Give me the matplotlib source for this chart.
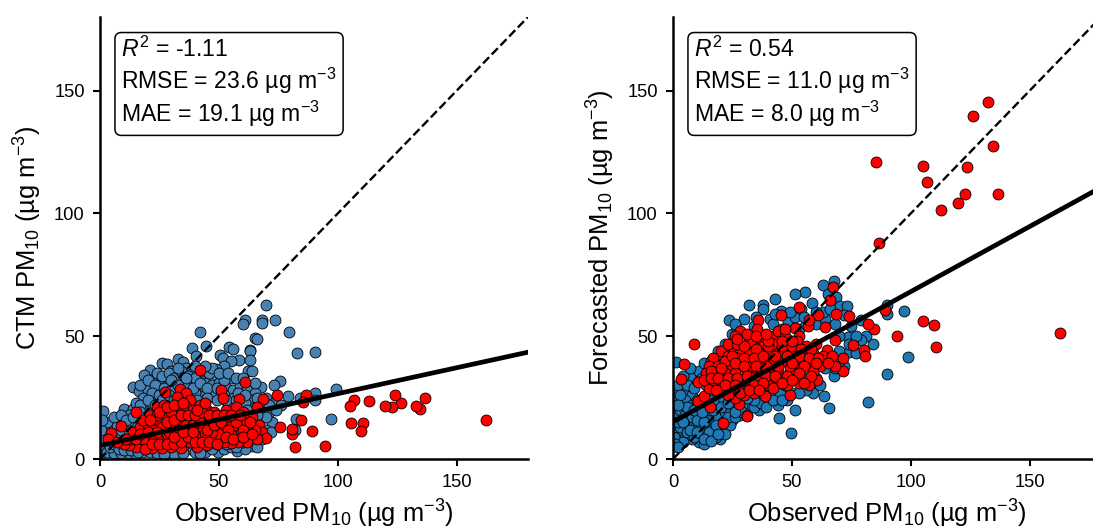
import numpy as np
import matplotlib
matplotlib.use("Agg")
import matplotlib.pyplot as plt

plt.rcParams["font.family"] = ["Liberation Sans", "DejaVu Sans"]
plt.rcParams["mathtext.fontset"] = "custom"
plt.rcParams["mathtext.rm"] = "Liberation Sans"
plt.rcParams["mathtext.it"] = "Liberation Sans:italic"
plt.rcParams["mathtext.default"] = "regular"

# Points as (observed, modelled)
ctm_blue = [
    (69.7, 62.6), (60.8, 56.8), (60.3, 54.8), (68.1, 56.6), (68.1, 55.5), (73.6, 56.8), (79.5, 51.9), (41.9, 51.6),
    (65.3, 49.2), (66, 48.9), (44.7, 45.9), (38.8, 45.2), (54.2, 45.8), (56, 44.8), (62.9, 44.5), (63.2, 44),
    (82.9, 43.2), (90.3, 43.4), (50.3, 42.4), (51.7, 41.3), (58.4, 40.2), (55.2, 39.8), (63.2, 40.4), (40.2, 41.8),
    (26.1, 39.1), (28.1, 38.8), (33, 40.7), (34.8, 39.3), (52, 37.7), (48.9, 36.6), (62.2, 35.8), (63.9, 35.7),
    (21.2, 36.2), (18.3, 34.4), (21.6, 32.2), (13.8, 29.5), (16.6, 27.5), (55.2, 32.9), (75.6, 31.6), (73.2, 30.3),
    (67.8, 29.4), (99.2, 28.4), (90.3, 27), (90.6, 24), (79.1, 25.8), (84, 25), (97.2, 16.4), (82.6, 16.4),
    (82.2, 12), (72.3, 15), (1.4, 19.7), (10.3, 20.2), (13.8, 20.2), (18, 19.5), (1.8, 13.8), (44.2, 2.9),
    (49.6, 2.9), (57.6, 3.4), (63.9, 5.2), (59.4, 5.9), (5.3, 3.8), (0.3, 2.5),
    (24, 35), (27, 33), (30, 36), (33, 34), (36, 37), (39, 35), (42, 33), (45, 31), (48, 33), (25, 30), (29, 31),
    (32, 29), (35, 31), (38, 32), (41, 30), (44, 28), (47, 30), (50, 31), (53, 29), (56, 28), (59, 30), (62, 28),
    (65, 27), (20, 28), (23, 26), (26, 28), (18, 25), (15, 23), (21, 23), (24, 24), (12, 18), (8, 16), (5, 15),
    (3, 11), (6, 12), (10, 14), (13, 15), (16, 17), (19, 20), (22, 21), (70, 25), (73, 23), (76, 22), (68, 23),
    (64, 24), (60, 25), (56, 25), (52, 26), (48, 27), (44, 26), (40, 27), (36, 27), (32, 25), (28, 25),
    (2, 7), (4, 8), (7, 9), (9, 6), (12, 5), (15, 4), (18, 3), (21, 3), (24, 2.5), (27, 3), (30, 3), (33, 3.5),
    (36, 4), (39, 3.5), (1, 4), (3, 3), (6, 2.5), (9, 2.5), (12, 2.5), (15, 2), (11, 10), (14, 9), (66, 9), (62, 8),
    (70, 12), (67, 15), (64, 13), (61, 17), (57, 20), (54, 22),
    (17, 30), (20, 32), (23, 30), (26, 34), (29, 35), (31, 33), (34, 36), (37, 34), (40, 33), (43, 36), (46, 35),
    (22, 27), (25, 26), (27, 29), (30, 28), (33, 30), (36, 29), (39, 29), (42, 31), (45, 29), (49, 29), (52, 32),
    (17, 22), (20, 24), (23, 22), (26, 24), (29, 26), (31, 24), (34, 25), (37, 25), (41, 24), (45, 25), (49, 24),
    (53, 24), (57, 24), (61, 23), (65, 21), (68, 19), (71, 19), (74, 20), (58, 27), (61, 26), (66, 25), (71, 22),
    (4, 5), (6, 6), (8, 4), (10, 3.5), (13, 3.5), (16, 3), (19, 4), (2, 10), (4, 12), (7, 14), (9, 12), (12, 12),
    (14, 13), (16, 14), (3, 15), (6, 17), (9, 18), (11, 16), (14, 17), (17, 19), (0.5, 8), (0.5, 12), (1, 16),
    (40, 3), (43, 5), (47, 4), (52, 4), (55, 5), (61, 4), (66, 5), (42, 2.5), (31, 2), (35, 2.5), (27, 2), (60, 7),
    (64, 9), (68, 8), (57, 5), (53, 6), (49, 6), (72, 11), (70, 17), (66, 18), (62, 20),
    (47, 37), (50, 35), (54, 35), (57, 33), (60, 33), (44, 38), (40, 38), (36, 33), (33, 37), (30, 32), (65, 31),
]
ctm_red = [
    (162.5, 15.7), (136.7, 25), (134.5, 20.4), (132.7, 21.6), (126.4, 22.7), (123.9, 26), (122.8, 21.3), (120, 21.6),
    (113, 23.8), (106.9, 24), (105, 21.6), (105.5, 14.8), (110.8, 14.8), (109.8, 11.3), (94.7, 5.3), (89.3, 11.5),
    (82.2, 5), (80.6, 10.2), (80.8, 12.2), (75.7, 13.1), (86.5, 26.2), (85.4, 23.2), (74.3, 26), (84.7, 16),
    (42.1, 36.3), (61, 31.5), (27.2, 27.3), (33.7, 28.7), (36, 27), (32.4, 25.4), (51, 28), (51.7, 25),
    (58.3, 24.3), (68.5, 24.3), (66, 21.3), (15, 19), (8.8, 13.4), (4.6, 10.6), (3.2, 8),
    (38, 24), (24, 21), (27, 22), (30, 21), (33, 20), (36, 21), (39, 20), (42, 22), (45, 20), (48, 19), (53, 20),
    (57, 21), (60, 19), (64, 17), (67, 14), (68, 11), (70, 8.5), (66, 8), (62, 7), (58, 7), (55, 6.5), (52, 7),
    (48, 8), (45, 9), (42, 8), (38, 7), (35, 9), (32, 8), (29, 7.5), (26, 7), (23, 7), (20, 6), (17, 6), (15, 5),
    (12, 5.5), (10, 6), (7, 7), (13, 8), (16, 9), (19, 10), (22, 11), (25, 12), (28, 13), (31, 13), (34, 14),
    (37, 13), (40, 12), (43, 13), (46, 14), (49, 12), (52, 13), (55, 14), (58, 13), (61, 14), (65, 12), (59, 10),
    (55, 10), (50, 10), (47, 11), (44, 10), (40, 9.5), (36, 11), (32, 11), (28, 10), (24, 9), (21, 8.5), (18, 8),
    (14, 11), (17, 13), (20, 14), (23, 15), (26, 16), (29, 17), (32, 17), (35, 17), (38, 16), (41, 16), (44, 17),
    (47, 16), (50, 16), (53, 17), (57, 17), (61, 16), (18, 16), (21, 18), (24, 18), (27, 19), (30, 19), (34, 4.5),
    (30, 5), (26, 4.5), (22, 4.5), (19, 4), (41, 5), (45, 5.5), (62, 12), (11, 8),
    (23, 12), (26, 13), (29, 11), (33, 12), (36, 14), (39, 14), (42, 15), (45, 12), (48, 14), (51, 15), (54, 12),
    (57, 15), (60, 12), (63, 15), (21, 16), (25, 19), (28, 15), (31, 16), (34, 18), (37, 18), (40, 18), (43, 19),
    (46, 18), (49, 18), (52, 18), (55, 18), (59, 18), (22, 6), (25, 6), (28, 6), (31, 6), (34, 7), (37, 9), (40, 7),
    (43, 7), (46, 7), (49, 6), (53, 9), (56, 8), (60, 9), (64, 10), (15, 8), (17, 10), (20, 11), (24, 11), (31, 9),
    (35, 11), (39, 11), (28, 21), (31, 22), (35, 23), (41, 20), (44, 23),
]
fc_blue = [
    (67.9, 72.4), (62.9, 70.8), (55.7, 68), (51.1, 67.3), (42.9, 65), (31.8, 62.9), (38, 62.9), (37.8, 60.9),
    (23.4, 56.5), (45.5, 60.2), (35, 58), (40.6, 57.2), (48.2, 55.7), (51.1, 57.7), (53.9, 60.9), (58.4, 63.4),
    (65.1, 67.3), (68.6, 65.9), (70.2, 62.5), (73.2, 62.4), (72.1, 58.8), (79.1, 56.8), (89.9, 62.9), (90.2, 59.1),
    (97, 60.2), (99, 41.4), (90.2, 34.5), (82.2, 23.1), (65.5, 20.8), (49.7, 10.6), (44.4, 16.8), (51.1, 20),
    (19.6, 8.3), (1.4, 39.4), (63.7, 25.5), (59, 26.9), (67.6, 34), (74.2, 43.5), (84, 47), (81.2, 50),
    (78.9, 48.6), (73.5, 49.6), (70, 44), (72, 38), (66, 40), (62, 30), (56, 28), (54, 32), (48, 24), (44, 22),
    (40, 25), (36, 20), (32, 21), (28, 18), (29, 22), (25, 16), (22, 13), (17, 12), (14, 10), (11, 9), (8, 11),
    (5, 10), (2, 12), (0.5, 9), (6, 15), (3, 17), (1, 19), (9, 14), (12, 13), (16, 15), (19, 17), (22, 19), (26, 21),
    (33, 26), (37, 27), (41, 28), (45, 27), (14, 18), (11, 20), (7, 20), (4, 22), (1, 24), (0.5, 28), (2, 30), (5, 27),
    (8, 26), (10, 32), (7, 34), (11, 36), (13, 39), (16, 40), (19, 44), (22, 47), (25, 51), (27, 53), (6, 30),
    (34, 54), (42, 55), (46, 53), (53, 53), (56, 55), (60, 55), (64, 57), (68, 55), (75, 54), (70, 50), (77, 43),
    (12, 16), (15, 20), (18, 23), (21, 25), (24, 26), (27, 29), (30, 30), (18, 9), (15, 8.5), (11, 7), (8, 8),
    (24, 14), (20, 12), (4, 7), (1, 6), (0.5, 13), (3, 13), (2, 5), (13, 6),
    (3, 20), (5, 18), (8, 17), (10, 16), (13, 15), (16, 12), (19, 12), (21, 15), (23, 17), (26, 17), (29, 19),
    (31, 18), (34, 21), (37, 23), (39, 21), (42, 24), (46, 24), (50, 27), (53, 27), (57, 31), (60, 33), (64, 37),
    (68, 37), (70, 40), (74, 47), (77, 50), (63, 60), (66, 61), (60, 60), (55, 58), (49, 60), (43, 59), (30, 57),
    (26, 55), (5, 24), (8, 22), (10, 24), (12, 22), (3, 26), (6, 21), (15, 26), (17, 28), (6, 11), (9, 9), (12, 10),
    (15, 11), (18, 14), (2, 15), (4, 15), (7, 12), (10, 11), (13, 8), (16, 7.5), (22, 10), (19, 10), (2, 22), (9, 29),
    (14, 30), (12, 33), (16, 36), (18, 40), (21, 42), (24, 44), (4, 34), (7, 37), (26, 19), (34, 24), (38, 29),
    (9, 20), (12, 19), (17, 20), (20, 21), (23, 23), (28, 24), (31, 25), (35, 28), (43, 31), (47, 30), (51, 33),
]
fc_red = [
    (162.6, 51.3), (132.4, 145.3), (126, 139.6), (134.5, 127.4), (136.6, 108), (123.5, 118.8), (122.7, 108),
    (119.7, 104.2), (112.6, 101.3), (106.7, 113), (105, 119.2), (85.3, 120.9), (86.6, 87.9),
    (110.4, 45.5), (109.7, 54.6), (105.2, 56.4), (94.4, 50.1), (89.2, 60.6), (84.6, 53), (82, 54.9), (80.5, 44.3),
    (80.7, 42.1), (75.6, 46.3), (74.2, 58.2), (68.5, 59), (67.2, 70), (66, 64.7), (53, 62), (45.5, 58.8), (35.6, 56.8),
    (28, 52.2), (9, 46.7), (4.5, 38.7), (3.4, 32.6), (21, 14.5), (31.2, 17.5), (27.7, 22.6), (15.4, 21.2),
    (10.5, 23.6), (12.9, 25.8), (10.5, 31.4), (15.1, 28.8), (49, 26), (38.8, 25.5), (60.6, 32.3), (71.4, 35.7),
    (68.3, 37.8), (71.3, 41.3), (68.2, 48.6), (64.8, 44.2), (64, 53.7), (61, 58.6), (56.7, 54.2), (57.1, 56.5),
    (51.1, 53.4), (35.5, 53), (26, 50), (32, 49), (37, 49), (42, 50), (44, 52), (47, 50), (53, 50), (25, 46), (29, 44),
    (33, 47), (38, 46), (43, 47), (48, 47), (52, 48), (56, 46), (60, 47), (20, 44), (17, 41), (23, 42), (27, 41),
    (32, 43), (36, 43), (41, 43), (45, 44), (50, 44), (55, 42), (59, 43), (63, 42), (67, 42), (15, 38), (19, 38),
    (24, 38), (28, 38), (33, 39), (37, 40), (42, 40), (47, 40), (52, 40), (57, 39), (62, 38), (14, 35), (18, 35),
    (22, 35), (26, 35), (31, 36), (35, 36), (40, 36), (44, 36), (49, 37), (54, 37), (59, 36), (13, 32), (17, 32),
    (21, 32), (25, 31), (29, 32), (33, 33), (37, 33), (41, 33), (46, 33), (51, 34), (56, 33), (20, 29), (24, 28),
    (28, 29), (32, 30), (36, 30), (40, 30), (44, 31), (48, 30), (53, 31), (57, 30), (30, 26), (34, 27), (26, 25),
    (23, 47), (27, 47), (30, 46), (35, 45), (40, 46), (46, 46), (50, 46), (54, 45), (58, 45), (22, 40), (25, 42),
    (30, 41), (34, 41), (38, 42), (43, 42), (48, 42), (53, 42), (57, 41), (61, 41), (16, 36), (20, 37), (26, 39),
    (30, 38), (35, 38), (39, 38), (44, 38), (50, 39), (55, 38), (60, 39), (65, 39), (16, 33), (19, 33), (23, 33),
    (27, 33), (31, 34), (35, 34), (39, 34), (43, 34), (48, 34), (53, 35), (58, 34), (22, 30), (26, 30), (30, 29),
    (34, 30), (38, 31), (42, 29), (46, 31), (50, 32), (55, 31), (18, 28), (23, 26), (28, 27), (32, 28), (36, 28),
    (27, 49), (31, 51), (35, 50), (40, 48), (46, 48), (50, 48), (39, 51), (47, 53),
]

# regression lines, read at the two ends of the x range
ctm_fit = [5.5, 43.5]
fc_fit = [15.1, 110.6]
line_x = [0, 180]
one_to_one = [0, 180]

ctm_stats = "$\\mathit{R}^2$ = -1.11\nRMSE = 23.6 µg m$^{-3}$\nMAE = 19.1 µg m$^{-3}$"
fc_stats = "$\\mathit{R}^2$ = 0.54\nRMSE = 11.0 µg m$^{-3}$\nMAE = 8.0 µg m$^{-3}$"


def draw(ax, blue, red, fit, stats, blue_col, ylabel):
    bx, by = np.array(blue).T
    rx, ry = np.array(red).T
    ax.scatter(bx, by, s=62, c=blue_col, edgecolors="black", linewidths=0.6, zorder=2)
    ax.scatter(rx, ry, s=62, c="red", edgecolors="black", linewidths=0.6, zorder=3)
    ax.plot(one_to_one, one_to_one, color="black", ls="--", lw=1.7, zorder=4)
    ax.plot(line_x, fit, color="black", lw=3.4, zorder=5)
    ax.set_xlim(0, 180)
    ax.set_ylim(0, 180)
    ax.set_xticks([0, 50, 100, 150])
    ax.set_yticks([0, 50, 100, 150])
    ax.tick_params(labelsize=13.2, width=1.5, length=5, pad=6)
    ax.set_xlabel("Observed PM$_{10}$ (µg m$^{-3}$)", fontsize=18.4, labelpad=4.5)
    ax.set_ylabel(ylabel, fontsize=18.4, labelpad=7)
    for side in ["top", "right"]:
        ax.spines[side].set_visible(False)
    for side in ["left", "bottom"]:
        ax.spines[side].set_linewidth(1.8)
    ax.text(0.05, 0.955, stats, transform=ax.transAxes, fontsize=16.6, va="top", ha="left", linespacing=1.14,
            bbox=dict(boxstyle="round,pad=0.28", fc="white", ec="black", lw=1.1), zorder=6)


fig = plt.figure(figsize=(10.93, 5.3), dpi=100)
ax1 = fig.add_axes([100 / 1093, 1 - 459 / 530, 428 / 1093, 442 / 530])
ax2 = fig.add_axes([673 / 1093, 1 - 459 / 530, 428 / 1093, 442 / 530])
draw(ax1, ctm_blue, ctm_red, ctm_fit, ctm_stats, "steelblue", "CTM PM$_{10}$ (µg m$^{-3}$)")
draw(ax2, fc_blue, fc_red, fc_fit, fc_stats, "tab:blue", "Forecasted PM$_{10}$ (µg m$^{-3}$)")
fig.savefig("out.png", dpi=100)
